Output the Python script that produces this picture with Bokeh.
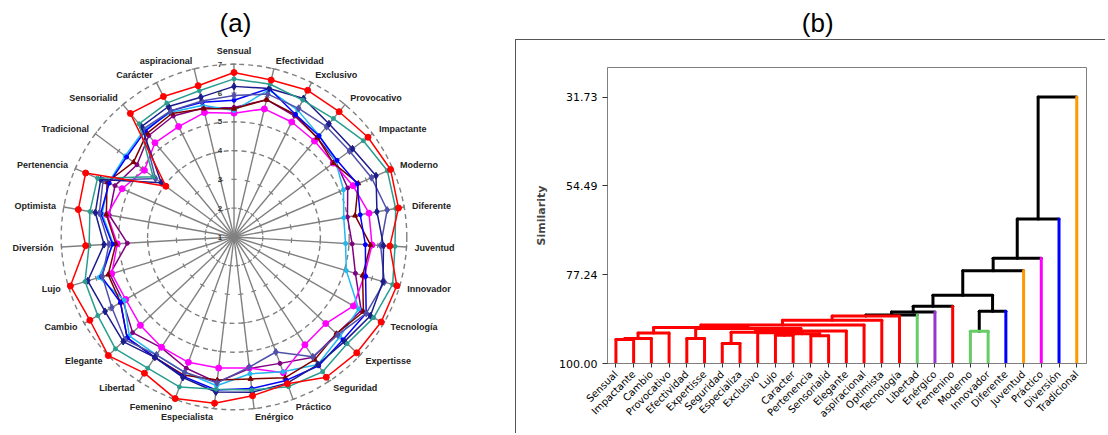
import math
from bokeh.plotting import figure
from bokeh.layouts import row, column
from bokeh.models import Range1d, FixedTicker, PrintfTickFormatter
from bokeh.core.properties import value
from bokeh.embed import file_html
from bokeh.resources import INLINE

# ---------------- data: (a) radar ----------------
radar_axes = ["Sensual", "Efectividad", "Exclusivo", "Provocativo", "Impactante", "Moderno",
              "Diferente", "Juventud", "Innovador", "Tecnología", "Expertisse", "Seguridad",
              "Práctico", "Enérgico", "Especialista", "Femenino", "Libertad", "Elegante",
              "Cambio", "Lujo", "Diversión", "Optimista", "Pertenencia", "Tradicional",
              "Sensorialid", "Carácter", "aspiracional"]
levels = [1, 2, 3, 4, 5, 6, 7]
dashed_levels = [4, 5, 7]

red = [6.71, 6.60, 6.70, 6.68, 6.80, 6.92, 6.80, 6.42, 6.90, 6.90, 6.86, 6.83, 6.42, 6.55,
       6.81, 6.97, 6.66, 7.00, 6.78, 6.93, 6.16, 6.49, 6.61, 3.95, 6.60, 6.46, 6.40]
teal = [6.49, 6.45, 6.32, 6.37, 6.60, 6.80, 6.70, 6.60, 6.75, 6.60, 6.40, 6.60, 6.53, 6.35,
        6.32, 6.54, 6.45, 6.66, 6.46, 6.40, 6.04, 6.08, 6.16, 4.50, 6.13, 6.20, 6.22]
navy = [6.23, 6.30, 6.38, 6.13, 6.13, 6.37, 6.04, 6.20, 6.40, 6.47, 6.28, 6.30, 6.40, 6.43,
        6.42, 6.19, 6.00, 6.29, 6.17, 6.30, 5.52, 5.89, 6.04, 4.15, 6.00, 6.07, 5.99]
slate = [5.91, 6.10, 6.00, 6.00, 6.00, 6.20, 6.40, 6.10, 6.45, 6.30, 5.95, 5.98, 5.25, 5.55,
         6.10, 6.00, 5.90, 6.20, 5.90, 5.77, 5.35, 5.75, 5.95, 4.40, 5.90, 5.90, 5.85]
blue = [5.75, 6.30, 5.76, 5.59, 5.46, 5.66, 5.45, 5.57, 5.77, 6.30, 6.20, 6.35, 6.30, 6.30,
        6.35, 6.15, 6.00, 6.10, 5.55, 5.80, 5.23, 5.70, 5.72, 5.65, 5.80, 5.90, 5.81]
maroon = [5.45, 5.90, 5.75, 5.50, 5.30, 5.70, 5.27, 5.75, 5.66, 6.19, 5.89, 6.10, 6.20, 5.96,
          6.00, 6.10, 6.00, 6.10, 5.55, 5.56, 5.11, 5.50, 5.80, 5.35, 5.70, 5.80, 5.58]
cyan = [5.39, 6.25, 5.93, 5.60, 5.40, 5.14, 4.87, 4.88, 5.07, 6.00, 6.05, 6.30, 5.98, 5.78,
        6.20, 6.00, 5.90, 6.00, 5.40, 5.90, 5.20, 5.65, 5.75, 5.71, 5.85, 5.85, 5.70]
magenta = [5.30, 5.57, 5.47, 5.35, 5.30, 5.50, 5.76, 5.80, 5.72, 5.79, 5.38, 5.48, 6.02, 5.58,
           5.58, 5.63, 5.58, 5.47, 5.34, 5.43, 5.06, 5.47, 5.23, 4.88, 5.27, 5.29, 5.44]
purple = [5.50, 5.90, 5.70, 5.50, 5.40, 5.30, 5.00, 5.11, 5.40, 6.10, 5.90, 6.00, 5.67, 5.60,
          6.08, 5.85, 5.60, 5.84, 5.45, 5.50, 4.71, 5.40, 5.50, 5.20, 5.60, 5.70, 5.60]

# drawn from back to front: (values, colour, marker, marker size)
radar_series = [
    (purple, "#800080", "circle", 4),
    (magenta, "#FF00FF", "circle", 6),
    (cyan, "#22B8F0", "circle", 4),
    (maroon, "#800000", "triangle", 5),
    (blue, "#0000FF", "circle", 4),
    (slate, "#5050AA", "diamond", 7),
    (navy, "#1C1C8C", "diamond", 7),
    (teal, "#2A9D8F", "circle", 4),
    (red, "#FF0000", "circle", 6),
]

# ---------------- data: (b) dendrogram ----------------
leaves = ["Sensual", "Impactante", "Cambio", "Provocativo", "Efectividad", "Expertisse",
          "Seguridad", "Especializa", "Exclusivo", "Lujo", "Caracter", "Pertenencia",
          "Sensorialid", "Elegante", "aspiracional", "Optimista", "Tecnología", "Libertad",
          "Enérgico", "Femenino", "Moderno", "Innovador", "Diferente", "Juventud", "Práctico",
          "Diversión", "Tradicional"]
# (child a, child b, similarity); "m#" refers to the #-th merge
merges = [
    ("Sensual", "Impactante", 93.86), ("m0", "Cambio", 93.60), ("m1", "Provocativo", 92.20),
    ("Efectividad", "Expertisse", 93.60), ("Seguridad", "Especializa", 94.88),
    ("Lujo", "Caracter", 92.75), ("Pertenencia", "Sensorialid", 92.88), ("m5", "m6", 92.37),
    ("Exclusivo", "m7", 92.10), ("m4", "m8", 91.99), ("m9", "Elegante", 91.65),
    ("m3", "m10", 91.04), ("m2", "m11", 90.78), ("m12", "aspiracional", 90.14),
    ("m13", "Optimista", 88.91), ("m14", "Tecnología", 87.80), ("m15", "Libertad", 87.60),
    ("m16", "Enérgico", 86.79), ("m17", "Femenino", 85.33), ("Moderno", "Innovador", 91.73),
    ("m19", "Diferente", 86.61), ("m18", "m20", 82.51), ("m21", "Juventud", 76.20),
    ("m22", "Práctico", 73.04), ("m23", "Diversión", 62.98), ("m24", "Tradicional", 31.73),
]
n_clusters = 10
cluster_colors = ["#FF0000", "#66CC66", "#9933CC", "#FF0000", "#66CC66", "#0000FF",
                  "#FF9900", "#FF00FF", "#0000FF", "#FF9900"]
sim_ticks = [31.73, 54.49, 77.24, 100.00]
sim_top = 24.14

# ---------------- (a) radar figure ----------------
W_A, H_A = 515, 434
PX = 28.8                 # pixels per scale unit
CX, CY = 233.5, 236.5     # centre inside the figure (pixels)
pa = figure(width=W_A, height=H_A, toolbar_location=None, output_backend="svg",
            x_range=Range1d(-CX / PX, (W_A - CX) / PX),
            y_range=Range1d(-(H_A - CY) / PX, CY / PX),
            x_axis_location=None, y_axis_location=None, min_border=0)
pa.min_border_left = pa.min_border_right = pa.min_border_top = pa.min_border_bottom = 0
pa.outline_line_color = None
pa.xgrid.grid_line_color = None
pa.ygrid.grid_line_color = None

K = len(radar_axes)
theta = [2 * math.pi * k / K for k in range(K)]
rmax = levels[-1] - levels[0]
grid_col = "#808080"

pa.segment(x0=[0] * K, y0=[0] * K,
           x1=[rmax * math.sin(t) for t in theta], y1=[rmax * math.cos(t) for t in theta],
           line_color=grid_col, line_width=1.4)
# tick marks along the spokes
tx0, ty0, tx1, ty1 = [], [], [], []
hl = 2.6 / PX
for t in theta:
    for L in levels[1:]:
        r = L - levels[0]
        cx, cy = r * math.sin(t), r * math.cos(t)
        px, py = math.cos(t), -math.sin(t)
        tx0.append(cx - hl * px); ty0.append(cy - hl * py)
        tx1.append(cx + hl * px); ty1.append(cy + hl * py)
pa.segment(x0=tx0, y0=ty0, x1=tx1, y1=ty1, line_color=grid_col, line_width=1.2)
for L in dashed_levels:
    pa.circle(x=0, y=0, radius=L - levels[0], fill_color=None, line_color=grid_col,
              line_width=1.4, line_dash="5 4")

for vals, col, mk, sz in radar_series:
    xs = [(v - levels[0]) * math.sin(t) for v, t in zip(vals, theta)]
    ys = [(v - levels[0]) * math.cos(t) for v, t in zip(vals, theta)]
    pa.line(xs + xs[:1], ys + ys[:1], line_color=col, line_width=1.5)
    pa.scatter(xs, ys, marker=mk, size=sz, fill_color=col, line_color=col)

# scale numbers along the top spoke
pa.text(x=[-14 / PX] * len(levels), y=[L - levels[0] for L in levels],
        text=[str(L) for L in levels], text_font=value("Liberation Sans"),
        text_font_size="8px", text_font_style="bold", text_color="#333333",
        text_align="center", text_baseline="middle")

# category labels
lab_r = rmax + 8 / PX
groups = {"left": ([], [], []), "right": ([], [], []), "center": ([], [], [])}
for name, t in zip(radar_axes, theta):
    s = math.sin(t)
    key = "left" if s > 0.05 else ("right" if s < -0.05 else "center")
    g = groups[key]
    g[0].append(lab_r * s); g[1].append(lab_r * math.cos(t)); g[2].append(name)
for key, (gx, gy, gt) in groups.items():
    if not gt:
        continue
    pa.text(x=gx, y=gy, text=gt, text_font=value("Liberation Sans"), text_font_size="9px",
            text_font_style="bold", text_color="#222222", text_align=key,
            text_baseline="bottom" if key == "center" else "middle")

pa.text(x=[1.5 / PX], y=[(CY - 22) / PX], text=["(a)"], text_font=value("Liberation Sans"),
        text_font_size="26px", text_color="#000000", text_align="center",
        text_baseline="middle")

# ---------------- (b) title strip ----------------
W_B, H_T = 591, 39
pt = figure(width=W_B, height=H_T, toolbar_location=None, output_backend="svg",
            x_range=Range1d(0, W_B), y_range=Range1d(0, H_T),
            x_axis_location=None, y_axis_location=None, min_border=0)
pt.min_border_left = pt.min_border_right = pt.min_border_top = pt.min_border_bottom = 0
pt.outline_line_color = None
pt.xgrid.grid_line_color = None
pt.ygrid.grid_line_color = None
pt.text(x=[260], y=[H_T - 22], text=["(b)"], text_font=value("Liberation Sans"),
        text_font_size="26px", text_color="#000000", text_align="center",
        text_baseline="middle")

# ---------------- (b) dendrogram ----------------
pb = figure(width=W_B - 1, height=394, toolbar_location=None, output_backend="svg",
            x_range=Range1d(0.525, len(leaves) + 0.55),
            y_range=Range1d(100.0, sim_top),
            min_border_left=91, min_border_right=20, min_border_top=27, min_border_bottom=71)
pb.styles = {"border-left": "1px solid #555555", "border-top": "1px solid #555555"}
pb.outline_line_color = "#808080"
pb.xgrid.grid_line_color = None
pb.ygrid.grid_line_color = None

pos = {n: i + 1 for i, n in enumerate(leaves)}
hgt = {n: 100.0 for n in leaves}
members = {n: [n] for n in leaves}
order = sorted(range(len(merges)), key=lambda j: merges[j][2])
black = set(order[:n_clusters - 1])

# clusters from the merges below the cut
parent = {n: n for n in leaves}
def find(n):
    while parent[n] != n:
        n = parent[n]
    return n
for j, (a, b, s) in enumerate(merges):
    members[f"m{j}"] = members[a] + members[b]
for j, (a, b, s) in enumerate(merges):
    if j not in black:
        ms = members[f"m{j}"]
        r0 = find(ms[0])
        for n in ms[1:]:
            parent[find(n)] = r0
roots = []
for n in leaves:
    r = find(n)
    if r not in roots:
        roots.append(r)
leaf_col = {n: cluster_colors[roots.index(find(n))] for n in leaves}

seg = {"black": ([], [], [], []), "col": ([], [], [], [], [])}
def add(x0, y0, x1, y1, c):
    if c == "#000000":
        L = seg["black"]
        L[0].append(x0); L[1].append(y0); L[2].append(x1); L[3].append(y1)
    else:
        L = seg["col"]
        L[0].append(x0); L[1].append(y0); L[2].append(x1); L[3].append(y1); L[4].append(c)

for j, (a, b, s) in enumerate(merges):
    xa, xb = pos[a], pos[b]
    ha, hb = hgt[a], hgt[b]
    if j in black:
        ca = leaf_col[a] if a in leaf_col else "#000000"
        cb = leaf_col[b] if b in leaf_col else "#000000"
        ch = "#000000"
    else:
        ca = cb = ch = leaf_col[members[f"m{j}"][0]]
    add(xa, ha, xa, s, ca)
    add(xb, hb, xb, s, cb)
    add(xa, s, xb, s, ch)
    pos[f"m{j}"] = (xa + xb) / 2.0
    hgt[f"m{j}"] = s

bk = seg["black"]
pb.segment(x0=bk[0], y0=bk[1], x1=bk[2], y1=bk[3], line_color="#000000", line_width=3,
           line_cap="round")
cl = seg["col"]
pb.segment(x0=cl[0], y0=cl[1], x1=cl[2], y1=cl[3], line_color=cl[4], line_width=3,
           line_cap="round")

pb.yaxis.ticker = FixedTicker(ticks=sim_ticks)
pb.yaxis.formatter = PrintfTickFormatter(format="%.2f")
pb.yaxis.axis_label = "Similarity"
pb.yaxis.axis_label_text_font = "DejaVu Sans"
pb.yaxis.axis_label_text_font_size = "11px"
pb.yaxis.axis_label_text_font_style = "bold"
pb.yaxis.axis_label_standoff = 8
pb.yaxis.major_label_text_font = "DejaVu Sans"
pb.yaxis.major_label_text_font_size = "11px"
pb.yaxis.minor_tick_line_color = None
pb.yaxis.major_tick_in = 0
pb.yaxis.major_tick_out = 5

pb.xaxis.ticker = FixedTicker(ticks=list(range(1, len(leaves) + 1)))
pb.xaxis.major_label_overrides = {i + 1: n for i, n in enumerate(leaves)}
pb.xaxis.major_label_orientation = math.pi / 4
pb.xaxis.major_label_text_font = "DejaVu Sans"
pb.xaxis.major_label_text_font_size = "10px"
pb.xaxis.minor_tick_line_color = None
pb.xaxis.major_tick_in = 0
pb.xaxis.major_tick_out = 4
for ax in (pb.xaxis, pb.yaxis):
    ax.axis_line_color = "#808080"
    ax.major_tick_line_color = "#333333"
    ax.major_label_text_color = "#000000"

layout = row(pa, column(pt, pb))
open("out.html", "w").write(file_html(layout, INLINE))
